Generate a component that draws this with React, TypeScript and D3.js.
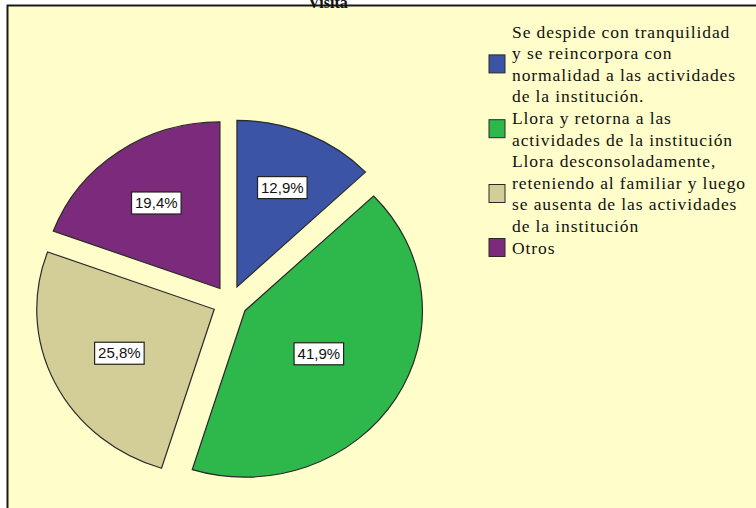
import React, { useEffect, useRef } from 'react'
import * as d3 from 'd3'

// slice data, clockwise from 12 o'clock
const categories = ['Se despide', 'Llora y retorna', 'Llora desconsoladamente', 'Otros']
const percents = [12.9, 41.9, 25.8, 19.4]
const sliceLabels = ['12,9%', '41,9%', '25,8%', '19,4%']
const colors = ['#3c54a5', '#2eb84b', '#d3ce98', '#7b2a7c']
const legendLines = [
  ['Se despide con tranquilidad', 'y se reincorpora con', 'normalidad a las actividades', 'de la institución.'],
  ['Llora y retorna a las', 'actividades de la institución'],
  ['Llora desconsoladamente,', 'reteniendo al familiar y luego', 'se ausenta de las actividades', 'de la institución'],
  ['Otros'],
]
const title = 'Visita'

const App = () => {
  const ref = useRef<SVGSVGElement>(null)

  useEffect(() => {
    const svg = d3.select(ref.current)
    svg.selectAll('*').remove()

    /* const setup */
    const W = 756
    const H = 508
    const cx = 230
    const cy = 302
    const R = 166.5
    const kx = 1.066 // picture is a bit wider than tall
    const explode = 16.5

    /* frame */
    svg.append('rect').attr('width', W).attr('height', H).attr('fill', '#ffffff')
    svg.append('rect')
      .attr('x', 7.5).attr('y', 5.5)
      .attr('width', W + 20).attr('height', H + 20)
      .attr('fill', '#fffdca')
      .attr('stroke', '#1a1a1a')
      .attr('stroke-width', 2)

    svg.append('text')
      .attr('x', 328).attr('y', 8)
      .attr('text-anchor', 'middle')
      .attr('font-family', 'Liberation Serif')
      .attr('font-weight', 'bold')
      .attr('font-size', 16)
      .attr('fill', '#111')
      .text(title)

    /* pie */
    const pie = d3.pie<number>().sort(null).value((d) => d)
    const arcs = pie(percents)
    const arc = d3.arc<d3.PieArcDatum<number>>().innerRadius(0).outerRadius(R)

    const g = svg.append('g').attr('transform', `translate(${cx},${cy}) scale(${kx},1)`)
    g.selectAll('path')
      .data(arcs)
      .enter()
      .append('path')
      .attr('transform', (d) => {
        const m = (d.startAngle + d.endAngle) / 2
        return `translate(${Math.sin(m) * explode},${-Math.cos(m) * explode})`
      })
      .attr('d', arc)
      .attr('fill', (d, i) => colors[i])
      .attr('stroke', '#2a2a2a')
      .attr('stroke-width', 1.2)
      .attr('vector-effect', 'non-scaling-stroke')

    /* labels at the sector centroid */
    arcs.forEach((d, i) => {
      const m = (d.startAngle + d.endAngle) / 2
      const th = d.endAngle - d.startAngle
      const c = (4 * R * Math.sin(th / 2)) / (3 * th)
      const x = cx + kx * Math.sin(m) * (explode + c)
      const y = cy - Math.cos(m) * (explode + c)
      const lg = svg.append('g')
      const t = lg.append('text')
        .attr('x', x).attr('y', y + 5)
        .attr('text-anchor', 'middle')
        .attr('font-family', 'Liberation Sans')
        .attr('font-size', 15)
        .attr('fill', '#111')
        .text(sliceLabels[i])
      const tw = (t.node() as SVGTextElement).getComputedTextLength()
      lg.insert('rect', 'text')
        .attr('x', x - tw / 2 - 3.5).attr('y', y - 11)
        .attr('width', tw + 7).attr('height', 22)
        .attr('fill', '#ffffff')
        .attr('stroke', '#222')
        .attr('stroke-width', 1.2)
    })

    /* legend */
    const lineH = 21.6
    let base = 37.5
    legendLines.forEach((lines, i) => {
      const first = base
      lines.forEach((ln) => {
        svg.append('text')
          .attr('x', 512).attr('y', base)
          .attr('font-family', 'Liberation Serif')
          .attr('font-size', 17.5)
          .attr('letter-spacing', 0.9)
          .attr('fill', '#111')
          .text(ln)
        base += lineH
      })
      const last = base - lineH
      const mid = (first + last) / 2 - 6
      svg.append('rect')
        .attr('x', 489).attr('y', mid - 9)
        .attr('width', 16).attr('height', 18)
        .attr('fill', colors[i])
        .attr('stroke', '#2a2a2a')
        .attr('stroke-width', 1)
        .attr('aria-label', categories[i])
    })
  }, [])

  return (
    <svg
      ref={ref}
      width={756}
      height={508}
      style={{ position: 'absolute', left: 0, top: 0 }}
    />
  )
}

export default App
